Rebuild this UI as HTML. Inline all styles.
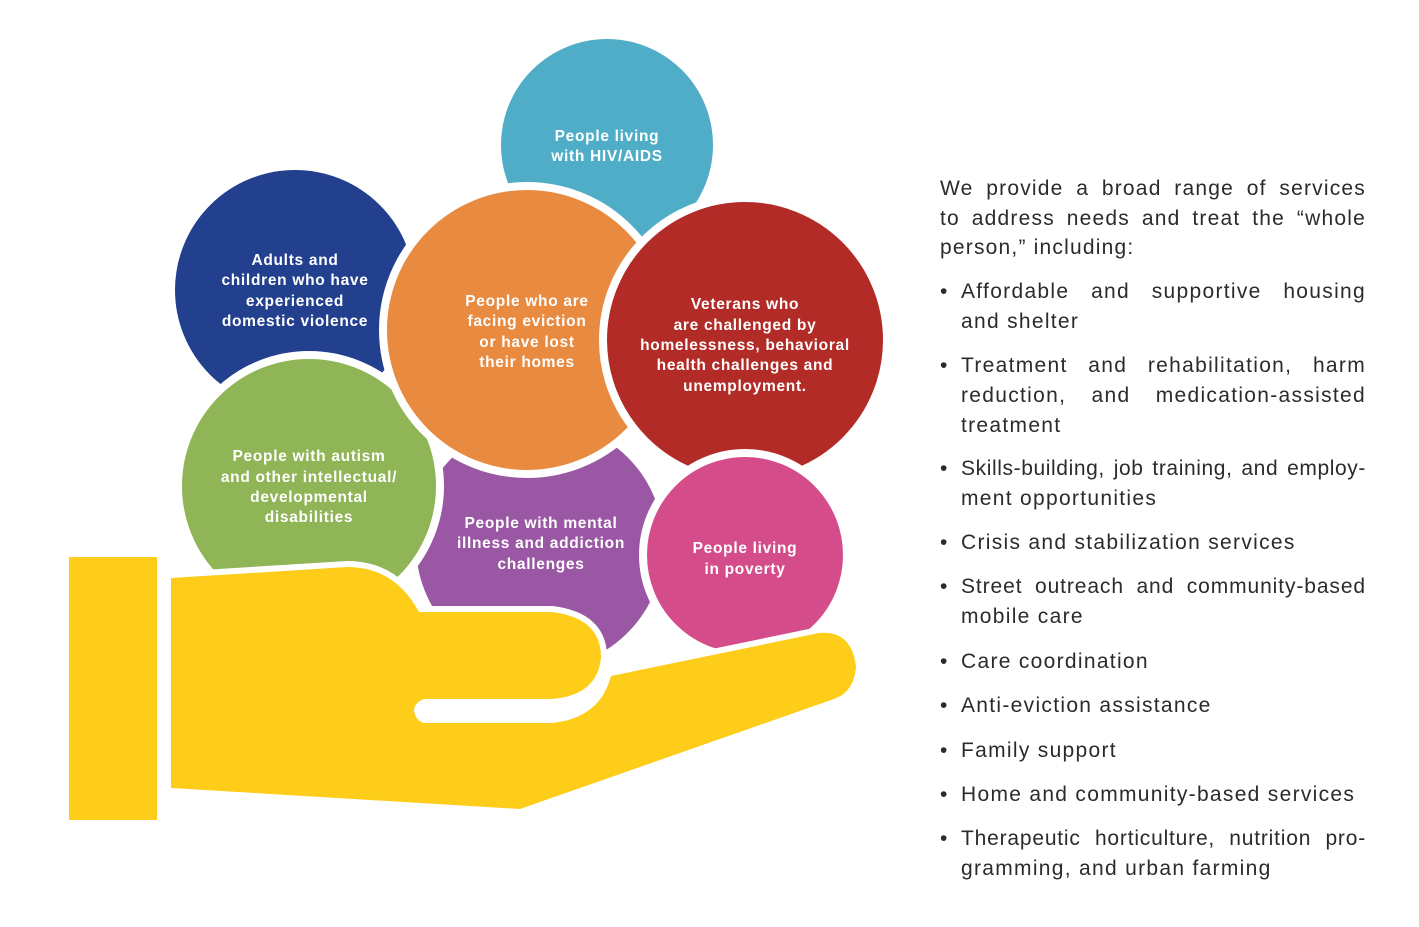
<!DOCTYPE html>
<html><head><meta charset="utf-8"><style>
body{margin:0;background:#fff;width:1419px;height:927px;overflow:hidden;position:relative;font-family:"Liberation Sans",sans-serif}
svg{position:absolute;left:0;top:0}
.t{position:absolute;left:940px;width:426px;font-size:21px;letter-spacing:1.2px;color:#2b2b2b;line-height:29.6px}
.j{text-align:justify;text-align-last:justify;white-space:nowrap}
.b{position:absolute;left:940px;font-size:21px;color:#2b2b2b}
.l{position:absolute;left:961px;width:405px;font-size:21px;letter-spacing:1.3px;color:#2b2b2b;white-space:nowrap}
</style></head><body>
<svg width="1419" height="927" viewBox="0 0 1419 927" font-family="Liberation Sans, sans-serif" font-weight="bold" font-size="15.5" letter-spacing="0.7" fill="#fff" text-anchor="middle">
<g stroke="#fff" stroke-width="8">
<circle cx="607" cy="145" r="110" fill="#4FADC7"/>
<circle cx="295" cy="290" r="124" fill="#22408E"/>
<circle cx="540" cy="545" r="128" fill="#9A58A4"/>
<circle cx="309" cy="486" r="131" fill="#8FB556"/>
<circle cx="527" cy="330" r="144" fill="#E88A40"/>
<circle cx="745" cy="340" r="142" fill="#B22B27"/>
<circle cx="745" cy="555" r="102" fill="#D44D8A"/>
</g>
<text x="607" y="141">People living</text><text x="607" y="161">with HIV/AIDS</text>
<text x="295" y="265">Adults and</text><text x="295" y="285">children who have</text><text x="295" y="306">experienced</text><text x="295" y="326">domestic violence</text>
<text x="527" y="306">People who are</text><text x="527" y="326">facing eviction</text><text x="527" y="347">or have lost</text><text x="527" y="367">their homes</text>
<text x="745" y="309">Veterans who</text><text x="745" y="330">are challenged by</text><text x="745" y="350">homelessness, behavioral</text><text x="745" y="370">health challenges and</text><text x="745" y="391">unemployment.</text>
<text x="309" y="461">People with autism</text><text x="309" y="482">and other intellectual/</text><text x="309" y="502">developmental</text><text x="309" y="522">disabilities</text>
<text x="541" y="528">People with mental</text><text x="541" y="548">illness and addiction</text><text x="541" y="569">challenges</text>
<text x="745" y="553">People living</text><text x="745" y="574">in poverty</text>
<rect x="69" y="557" width="88" height="263" fill="#FDCD1A"/>
<path d="M171 578 L347 567 Q395 567 419 612 L552 612 Q601 618 601 657 Q598 695 552 699 L424 699 Q414 703 414 711 Q416 721 424 723 L552 723 Q600 718 611 676 L819 633 Q852 630 856 667 Q854 692 834 699 L520 809 L171 788 Z" fill="#FDCD1A" stroke="#fff" stroke-width="12" paint-order="stroke"/>
</svg>
<div class="t" style="top:174px"><div class="j">We provide a broad range of services</div><div class="j">to address needs and treat the “whole</div><div>person,” including:</div></div>
<div class="b" style="top:280px">•</div><div class="l" style="top:280px"><div class="j">Affordable and supportive housing</div><div style="margin-top:6px">and shelter</div></div>
<div class="b" style="top:354px">•</div><div class="l" style="top:354px"><div class="j">Treatment and rehabilitation, harm</div><div class="j" style="margin-top:6px">reduction, and medication-assisted</div><div style="margin-top:6px">treatment</div></div>
<div class="b" style="top:457px">•</div><div class="l" style="top:457px"><div class="j" style="letter-spacing:0.6px;word-spacing:-5px">Skills-building, job training, and employ-</div><div style="margin-top:6px">ment opportunities</div></div>
<div class="b" style="top:531px">•</div><div class="l" style="top:531px">Crisis and stabilization services</div>
<div class="b" style="top:575px">•</div><div class="l" style="top:575px"><div class="j" style="letter-spacing:0.9px;word-spacing:-4px">Street outreach and community-based</div><div style="margin-top:6px">mobile care</div></div>
<div class="b" style="top:650px">•</div><div class="l" style="top:650px">Care coordination</div>
<div class="b" style="top:694px">•</div><div class="l" style="top:694px">Anti-eviction assistance</div>
<div class="b" style="top:739px">•</div><div class="l" style="top:739px">Family support</div>
<div class="b" style="top:783px">•</div><div class="l" style="top:783px">Home and community-based services</div>
<div class="b" style="top:827px">•</div><div class="l" style="top:827px"><div class="j" style="letter-spacing:0.8px;word-spacing:-4px">Therapeutic horticulture, nutrition pro-</div><div style="margin-top:6px">gramming, and urban farming</div></div>
</body></html>
